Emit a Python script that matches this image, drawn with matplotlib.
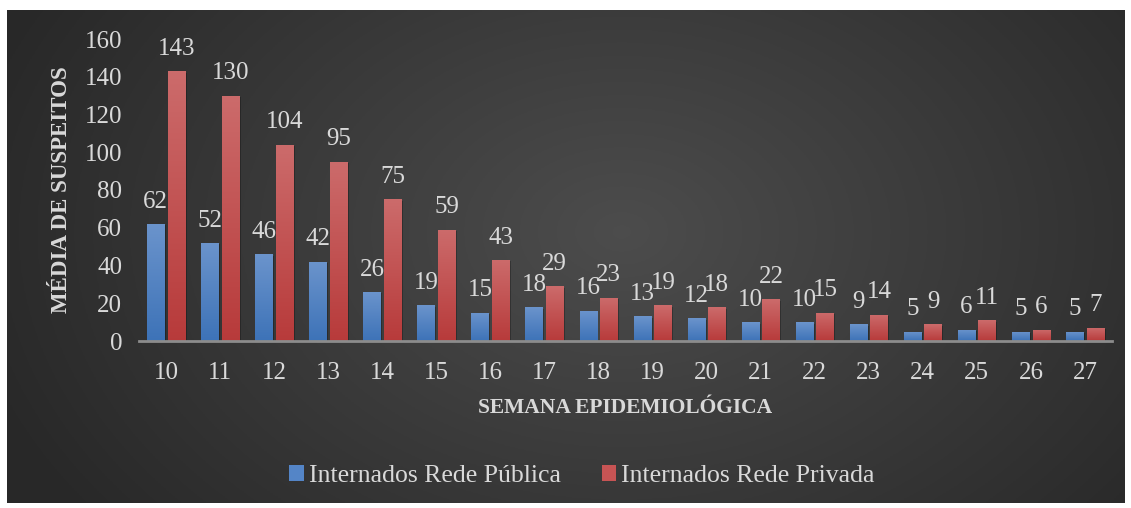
import matplotlib
matplotlib.use("Agg")
import matplotlib.pyplot as plt
import numpy as np
from matplotlib.patches import Rectangle

semanas = [str(s) for s in range(10, 28)]
publica = [62, 52, 46, 42, 26, 19, 15, 18, 16, 13, 12, 10, 10, 9, 5, 6, 5, 5]
privada = [143, 130, 104, 95, 75, 59, 43, 29, 23, 19, 18, 22, 15, 14, 9, 11, 6, 7]
serie_nomes = ["Internados Rede Pública", "Internados Rede Privada"]

plt.rcParams["font.family"] = ["Liberation Serif", "DejaVu Serif"]
txt = "#d9d9d9"

W, H = 1131, 508
fig = plt.figure(figsize=(W / 100, H / 100), dpi=100, facecolor="white")

# dark radial background of the chart area
bg = fig.add_axes([7 / W, 1 - 503 / H, (1125 - 7) / W, (503 - 10) / H])
yy, xx = np.mgrid[0:1:200j, 0:1:400j]
r = np.sqrt(((xx - 0.55) * 1.6) ** 2 + (yy - 0.45) ** 2)
shade = 0.30 - 0.14 * np.clip(r / 0.95, 0, 1)
bg.imshow(np.dstack([shade] * 3), aspect="auto", extent=[0, 1, 0, 1])
bg.set_axis_off()

ax = fig.add_axes([139 / W, 1 - 341 / H, (1112 - 139) / W, (341 - 39) / H])
ax.patch.set_alpha(0)
x = np.arange(len(semanas))
bw = 0.32
off = 0.19

def grad_bars(xs, vals, top, bottom):
    grad = np.linspace(0, 1, 100).reshape(-1, 1)
    c = np.array(top)[None, None, :] * (1 - grad[..., None]) + np.array(bottom)[None, None, :] * grad[..., None]
    for xi, v in zip(xs, vals):
        # soft shadow
        ax.add_patch(Rectangle((xi - bw / 2 + 0.03, 0), bw, v - 0.8, facecolor="black",
                               alpha=0.25, edgecolor="none", zorder=1))
        rect = Rectangle((xi - bw / 2, 0), bw, v, facecolor="none", edgecolor="none", zorder=2)
        ax.add_patch(rect)
        im = ax.imshow(c, extent=[xi - bw / 2, xi + bw / 2, 0, v], aspect="auto", zorder=2)
        im.set_clip_path(rect)
        ax.text(xi, v + 6, str(v), ha="center", va="bottom", color=txt, fontsize=18, zorder=3)

grad_bars(x - off, publica, (0.42, 0.58, 0.80), (0.24, 0.45, 0.72))
grad_bars(x + off, privada, (0.80, 0.42, 0.42), (0.72, 0.23, 0.23))

ax.set_xlim(-0.5, len(semanas) - 0.5)
ax.set_ylim(0, 160)
ax.set_yticks(range(0, 161, 20))
ax.set_xticks(x)
ax.set_xticklabels(semanas)
ax.tick_params(colors=txt, labelsize=18, length=0)
ax.tick_params(axis="y", pad=12)
ax.tick_params(axis="x", pad=15)
for s in ["top", "right", "left"]:
    ax.spines[s].set_visible(False)
ax.spines["bottom"].set_color("#8c8c8c")
ax.spines["bottom"].set_linewidth(2)
ax.spines["bottom"].set_zorder(4)

ax.set_xlabel("SEMANA EPIDEMIOLÓGICA", color=txt, fontsize=15.5, fontweight="bold", labelpad=10)
ax.set_ylabel("MÉDIA DE SUSPEITOS", color=txt, fontsize=16.5, fontweight="bold", labelpad=9)

h1 = Rectangle((0, 0), 1, 1, facecolor=(0.33, 0.52, 0.78))
h2 = Rectangle((0, 0), 1, 1, facecolor=(0.78, 0.33, 0.33))
leg = fig.legend([h1, h2], serie_nomes, loc="center", bbox_to_anchor=(582 / W, 1 - 476 / H),
                 ncol=2, frameon=False, fontsize=18.5, labelcolor=txt, handlelength=0.55,
                 handleheight=0.55, handletextpad=0.2, columnspacing=1.6)

fig.savefig("out.png", dpi=100, facecolor="white")
